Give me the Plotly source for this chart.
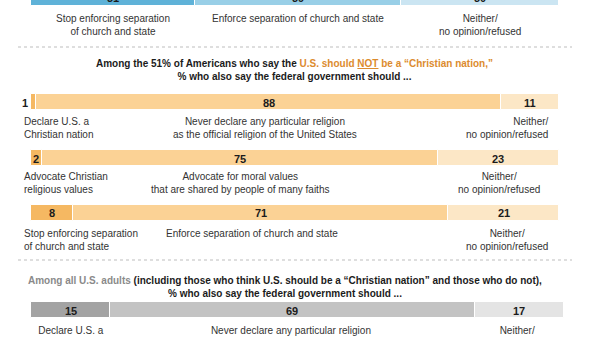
import plotly.graph_objects as go

# ---------------- data ----------------
vals_blue = [31, 39, 30]
vals_declare = [1, 88, 11]
vals_advocate = [2, 75, 23]
vals_separation = [8, 71, 21]
vals_all_declare = [15, 69, 17]

desc_blue = ["Stop enforcing separation<br>of church and state", "Enforce separation of church and state", "Neither/<br>no opinion/refused"]
desc_declare = ["Declare U.S. a<br>Christian nation", "Never declare any particular religion<br>as the official religion of the United States", "Neither/<br>no opinion/refused"]
desc_advocate = ["Advocate Christian<br>religious values", "Advocate for moral values<br>that are shared by people of many faiths", "Neither/<br>no opinion/refused"]
desc_separation = ["Stop enforcing separation<br>of church and state", "Enforce separation of church and state", "Neither/<br>no opinion/refused"]
desc_all_declare = ["Declare U.S. a<br>Christian nation", "Never declare any particular religion<br>as the official religion of the United States", "Neither/<br>no opinion/refused"]

# ---------------- layout constants ----------------
W, H = 600, 337
X0, PX = 31, 5.28          # pixel of 0 % and pixels per %
BAR_H = 16
FONT = "Liberation Sans"
TFONT = "Liberation Sans"

blue = ["#5fb2d8", "#99cfe7", "#cbe5f2"]
orange = ["#f5b862", "#fbd295", "#fce7c6"]
gray = ["#a3a3a3", "#c3c3c3", "#e4e4e4"]

def px2x(p):
    return (p - X0) / PX

row_specs = [
    dict(v=vals_blue, c=blue, y=-2, d=desc_blue, dy=11,
         dpos=[("c", None), ("c", None), ("c", None)]),
    dict(v=vals_declare, c=orange, y=102, d=desc_declare, dy=114,
         dpos=[("l", 22), ("c", 265), ("r", 551)]),
    dict(v=vals_advocate, c=orange, y=158, d=desc_advocate, dy=169,
         dpos=[("l", 22), ("c", None), ("c", 499)]),
    dict(v=vals_separation, c=orange, y=213, d=desc_separation, dy=226,
         dpos=[("l", 22), ("c", 252), ("c", 507)]),
    dict(v=vals_all_declare, c=gray, y=310, d=desc_all_declare, dy=323,
         dpos=[("c", None), ("c", 291), ("c", 517)]),
]

fig = go.Figure()
annotations = []

def ypaper(p):
    return 1 - p / H

for r in row_specs:
    base = 0
    for i, (v, col) in enumerate(zip(r["v"], r["c"])):
        fig.add_trace(go.Bar(
            x=[v], y=[r["y"]], base=[base], orientation="h", width=BAR_H,
            marker=dict(color=col, line=dict(color="white", width=1)),
            hoverinfo="skip", showlegend=False,
        ))
        center = base + v / 2
        lx = center
        if v < 1.5:
            lx = px2x(25)
        annotations.append(dict(
            x=lx, y=ypaper(r["y"] + 0.5), xref="x", yref="paper",
            text="<b>%d</b>" % v, showarrow=False,
            font=dict(family=FONT, size=11, color="#1b1b1b"),
            xanchor="center", yanchor="middle",
        ))
        kind, pxpos = r["dpos"][i]
        if kind == "l":
            ax, anc, al = px2x(pxpos), "left", "left"
        elif kind == "r":
            ax, anc, al = px2x(pxpos), "right", "right"
        else:
            ax = center if pxpos is None else px2x(pxpos)
            anc, al = "center", "center"
        annotations.append(dict(
            x=ax, y=ypaper(r["dy"]), xref="x", yref="paper",
            text=r["d"][i], showarrow=False, align=al,
            font=dict(family=FONT, size=10, color="#333333"),
            xanchor=anc, yanchor="top",
        ))
        base += v

# titles
annotations.append(dict(
    x=294 / W, y=ypaper(70), xref="paper", yref="paper", showarrow=False,
    text=("<b>Among the 51% of Americans who say the "
          "<span style='color:#dc8b2e'>U.S. should <u>NOT</u> be a \u201cChristian nation,\u201d</span></b><br>"
          "<b>% who also say the federal government should ...</b>"),
    font=dict(family=TFONT, size=10, color="#1b1b1b"), align="center",
    xanchor="center", yanchor="middle",
))
annotations.append(dict(
    x=285 / W, y=ypaper(287), xref="paper", yref="paper", showarrow=False,
    text=("<b><span style='color:#8a8a8a'>Among all U.S. adults</span> (including those who think U.S. "
          "should be a \u201cChristian nation\u201d and those who do not),</b><br>"
          "<b>% who also say the federal government should ...</b>"),
    font=dict(family=TFONT, size=10, color="#1b1b1b"), align="center",
    xanchor="center", yanchor="middle",
))

shapes = []
for yy in [47, 260]:
    shapes.append(dict(type="line", xref="paper", yref="paper",
                       x0=18 / W, x1=572 / W, y0=ypaper(yy), y1=ypaper(yy),
                       line=dict(color="#bdbdbd", width=1, dash="dot")))

fig.update_layout(
    width=W, height=H, margin=dict(l=0, r=0, t=0, b=0),
    paper_bgcolor="white", plot_bgcolor="white",
    barmode="overlay", bargap=0,
    xaxis=dict(range=[px2x(0), px2x(W)], visible=False, fixedrange=True),
    yaxis=dict(range=[H, 0], visible=False, fixedrange=True),
    annotations=annotations, shapes=shapes,
)

fig.write_html("out.html")
